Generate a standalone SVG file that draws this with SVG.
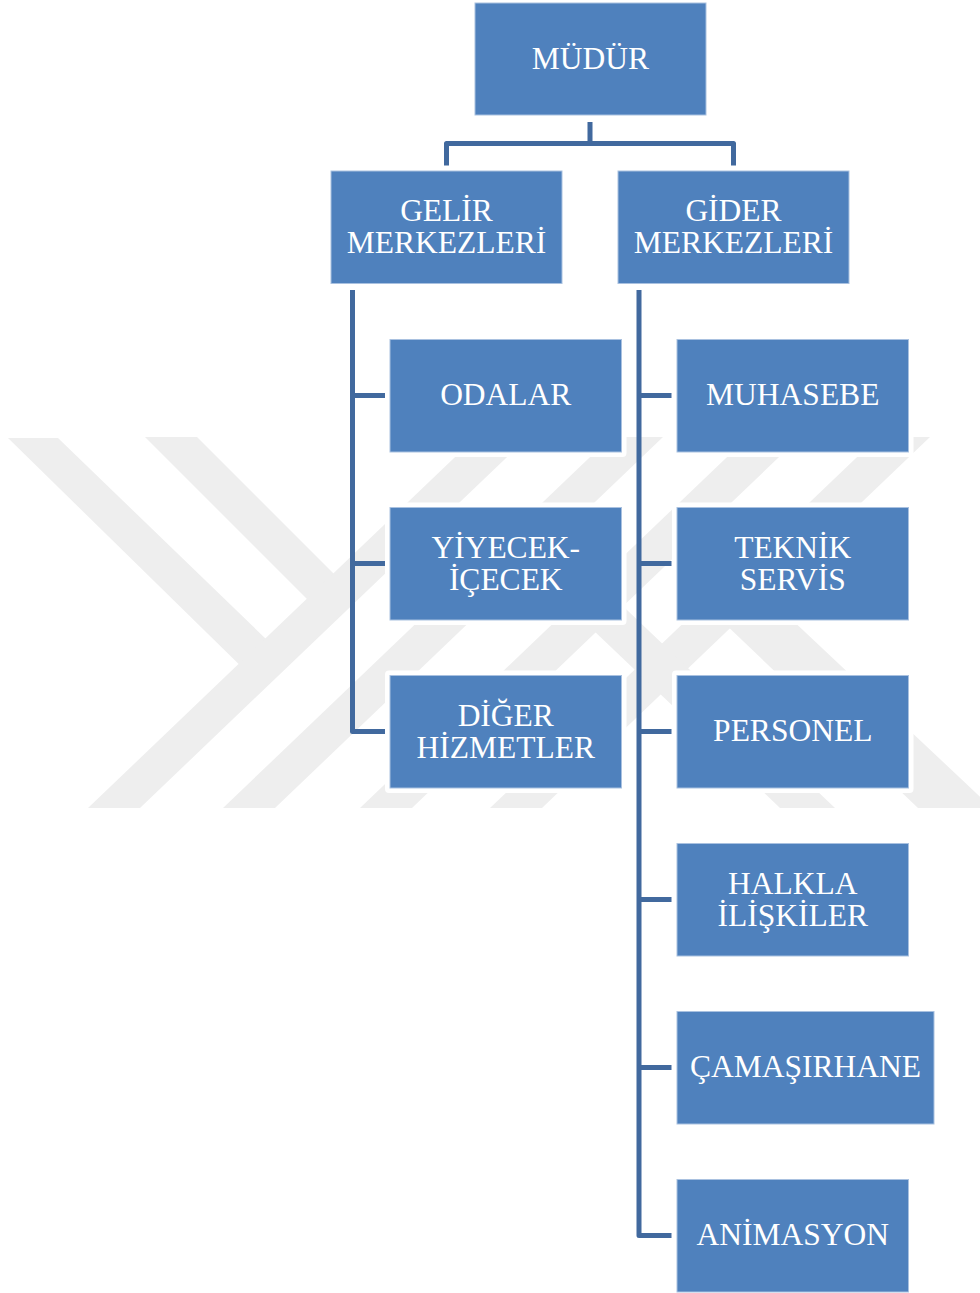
<svg xmlns="http://www.w3.org/2000/svg" width="980" height="1293" viewBox="0 0 980 1293">
<style>
.bg{fill:#ffffff}
.wm{fill:#eeeeee}
.halo{fill:#ffffff}
.box{fill:#4f81bd;stroke:#a9c1e0;stroke-width:1}
.lbl{font-family:"Liberation Serif","Times New Roman",serif;font-size:31.5px;fill:#ffffff;text-anchor:middle}
.con{fill:none;stroke:#41699e;stroke-width:5;stroke-linejoin:round;stroke-linecap:butt}
</style>
<rect class="bg" x="0" y="0" width="980" height="1293"/>
<g id="watermark">
  <polygon class="wm" points="8,438 58,438 280.5,653 255,680"/>
  <polygon class="wm" points="145,437 197,437 350,590 320,612"/>
  <polygon class="wm" points="88,808 140,808 528,437 476,437"/>
  <polygon class="wm" points="223,808 275,808 663,437 611,437"/>
  <polygon class="wm" points="360,808 412,808 800,437 748,437"/>
  <polygon class="wm" points="490,808 542,808 930,437 878,437"/>
  <polygon class="wm" points="551,590 606,590 835,808 780,808"/>
  <polygon class="wm" points="700,600 771,600 992,808 918,808"/>
</g>
<g id="connectors">
  <path class="con" d="M590,122 V143.5 M446.5,165.5 V143.5 H733.5 V165.5"/>
  <path class="con" d="M352.5,290 V731.5 H385 M352.5,395.5 H385 M352.5,563.5 H385"/>
  <path class="con" d="M639,290 V1235.5 H671.5 M639,395.5 H671.5 M639,563.5 H671.5 M639,731.5 H671.5 M639,899.5 H671.5 M639,1067.5 H671.5"/>
</g>
<g id="n-mudur">
  <rect class="halo" x="470" y="0" width="241" height="120" rx="4"/>
  <rect class="box" x="475" y="3" width="231" height="112"/>
  <text class="lbl" x="590.5" y="69">MÜDÜR</text>
</g>
<g id="n-gelir">
  <rect class="halo" x="326" y="166" width="241" height="122.5" rx="4"/>
  <rect class="box" x="331" y="171" width="231" height="112.5"/>
  <text class="lbl" x="446.5" y="221">GELİR</text>
  <text class="lbl" x="446.5" y="253">MERKEZLERİ</text>
</g>
<g id="n-gider">
  <rect class="halo" x="613" y="166" width="241" height="122.5" rx="4"/>
  <rect class="box" x="618" y="171" width="231" height="112.5"/>
  <text class="lbl" x="733.5" y="221">GİDER</text>
  <text class="lbl" x="733.5" y="253">MERKEZLERİ</text>
</g>
<g id="n-odalar">
  <rect class="halo" x="385" y="334.5" width="241.5" height="122.5" rx="4"/>
  <rect class="box" x="390" y="339.5" width="231.5" height="112.5"/>
  <text class="lbl" x="505.75" y="405">ODALAR</text>
</g>
<g id="n-yiyecek">
  <rect class="halo" x="385" y="502.5" width="241.5" height="122.5" rx="4"/>
  <rect class="box" x="390" y="507.5" width="231.5" height="112.5"/>
  <text class="lbl" x="505.75" y="557.5">YİYECEK-</text>
  <text class="lbl" x="505.75" y="589.5">İÇECEK</text>
</g>
<g id="n-diger">
  <rect class="halo" x="385" y="670.5" width="241.5" height="122.5" rx="4"/>
  <rect class="box" x="390" y="675.5" width="231.5" height="112.5"/>
  <text class="lbl" x="505.75" y="725.5">DİĞER</text>
  <text class="lbl" x="505.75" y="757.5">HİZMETLER</text>
</g>
<g id="n-muhasebe">
  <rect class="halo" x="672" y="334.5" width="241.5" height="122.5" rx="4"/>
  <rect class="box" x="677" y="339.5" width="231.5" height="112.5"/>
  <text class="lbl" x="792.75" y="405">MUHASEBE</text>
</g>
<g id="n-teknik">
  <rect class="halo" x="672" y="502.5" width="241.5" height="122.5" rx="4"/>
  <rect class="box" x="677" y="507.5" width="231.5" height="112.5"/>
  <text class="lbl" x="792.75" y="557.5">TEKNİK</text>
  <text class="lbl" x="792.75" y="589.5">SERVİS</text>
</g>
<g id="n-personel">
  <rect class="halo" x="672" y="670.5" width="241.5" height="122.5" rx="4"/>
  <rect class="box" x="677" y="675.5" width="231.5" height="112.5"/>
  <text class="lbl" x="792.75" y="741">PERSONEL</text>
</g>
<g id="n-halkla">
  <rect class="halo" x="672" y="838.5" width="241.5" height="122.5" rx="4"/>
  <rect class="box" x="677" y="843.5" width="231.5" height="112.5"/>
  <text class="lbl" x="792.75" y="893.5">HALKLA</text>
  <text class="lbl" x="792.75" y="925.5">İLİŞKİLER</text>
</g>
<g id="n-camasirhane">
  <rect class="halo" x="672" y="1006.5" width="267" height="122.5" rx="4"/>
  <rect class="box" x="677" y="1011.5" width="257" height="112.5"/>
  <text class="lbl" x="805.5" y="1077">ÇAMAŞIRHANE</text>
</g>
<g id="n-animasyon">
  <rect class="halo" x="672" y="1174.5" width="241.5" height="122.5" rx="4"/>
  <rect class="box" x="677" y="1179.5" width="231.5" height="112.5"/>
  <text class="lbl" x="792.75" y="1245">ANİMASYON</text>
</g>
</svg>
